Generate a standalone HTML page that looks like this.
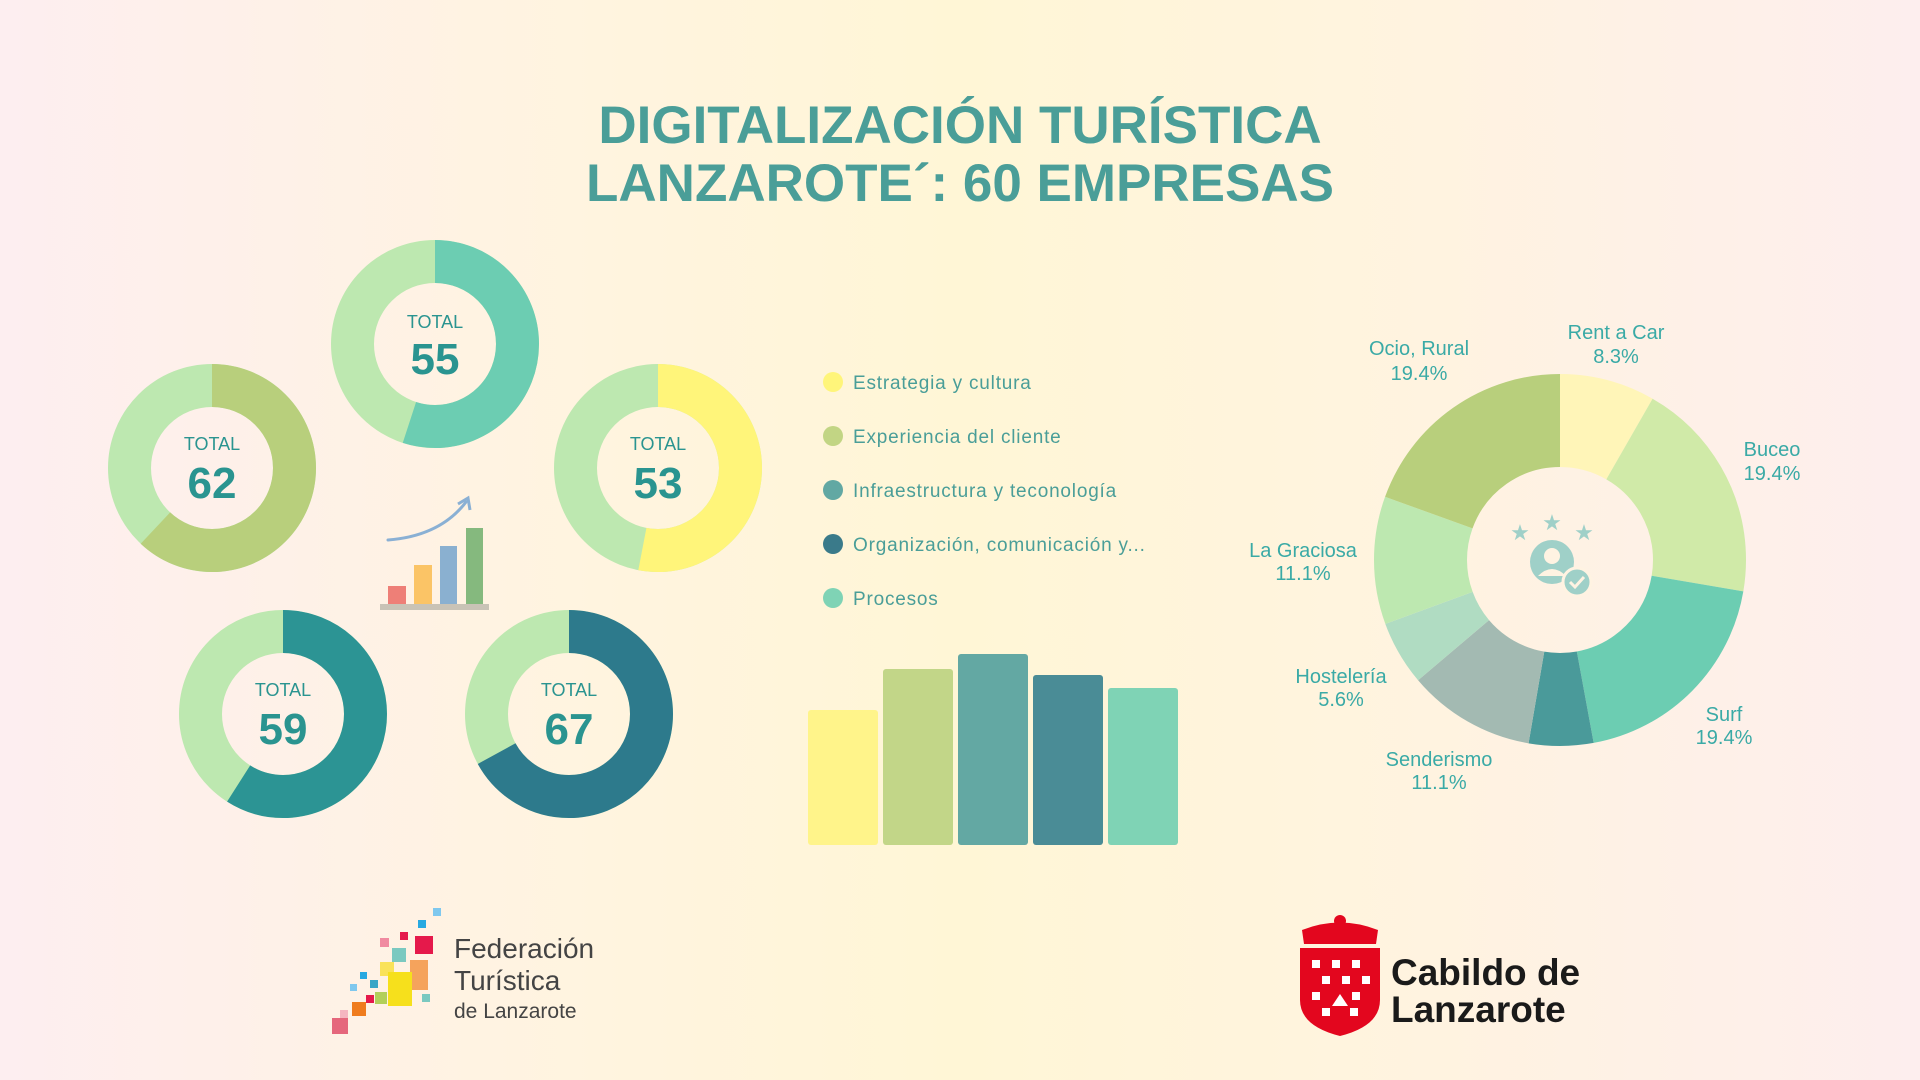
<!DOCTYPE html>
<html><head><meta charset="utf-8"><style>
html,body{margin:0;padding:0}
body{width:1920px;height:1080px;overflow:hidden;position:relative;font-family:"Liberation Sans",sans-serif;
background:linear-gradient(90deg,#fdeef0 0%,#fff3e2 25%,#fff6d6 50%,#fff3e0 75%,#fdeeee 100%);}
.t{position:absolute;color:#3a9f9b;white-space:nowrap}
</style></head><body>
<div class="t" style="left:0;width:1920px;text-align:center;top:97px;font-size:53px;font-weight:bold;line-height:58px;color:#4a9e98">DIGITALIZACIÓN TURÍSTICA<br>LANZAROTE´: 60 EMPRESAS</div>

<svg width="1920" height="1080" style="position:absolute;left:0;top:0">
<g fill="none" stroke-width="43">
 <g transform="translate(435,344) rotate(-90)"><circle r="82.5" stroke="#bde8b0"/><circle r="82.5" stroke="#6ccdb2" stroke-dasharray="285.1 600"/></g>
 <g transform="translate(212,468) rotate(-90)"><circle r="82.5" stroke="#bde8b0"/><circle r="82.5" stroke="#b8cf7c" stroke-dasharray="321.4 600"/></g>
 <g transform="translate(658,468) rotate(-90)"><circle r="82.5" stroke="#bde8b0"/><circle r="82.5" stroke="#fff57a" stroke-dasharray="274.8 600"/></g>
 <g transform="translate(283,714) rotate(-90)"><circle r="82.5" stroke="#bde8b0"/><circle r="82.5" stroke="#2c9494" stroke-dasharray="305.9 600"/></g>
 <g transform="translate(569,714) rotate(-90)"><circle r="82.5" stroke="#bde8b0"/><circle r="82.5" stroke="#2d7a8c" stroke-dasharray="347.3 600"/></g>
</g>
<g font-family="Liberation Sans" fill="#2a9490" text-anchor="middle">
 <text x="435" y="328" font-size="18">TOTAL</text><text x="435" y="374" font-size="44" font-weight="bold">55</text>
 <text x="212" y="450" font-size="18">TOTAL</text><text x="212" y="498" font-size="44" font-weight="bold">62</text>
 <text x="658" y="450" font-size="18">TOTAL</text><text x="658" y="498" font-size="44" font-weight="bold">53</text>
 <text x="283" y="696" font-size="18">TOTAL</text><text x="283" y="744" font-size="44" font-weight="bold">59</text>
 <text x="569" y="696" font-size="18">TOTAL</text><text x="569" y="744" font-size="44" font-weight="bold">67</text>
</g>
<path d="M388 540 Q440 536 466 502" stroke="#8ab0d4" stroke-width="3" fill="none" stroke-linecap="round"/>
<path d="M458 504 L468 498 L470 510" stroke="#8ab0d4" stroke-width="3" fill="none"/>
<rect x="388" y="586" width="18" height="22" fill="#ee7f77"/>
<rect x="414" y="565" width="18" height="43" fill="#fbc466"/>
<rect x="440" y="546" width="17" height="62" fill="#8ab0d0"/>
<rect x="466" y="528" width="17" height="80" fill="#85b97e"/>
<rect x="380" y="604" width="109" height="6" fill="#c9c3b6"/>

<g font-family="Liberation Sans" font-size="19" fill="#4a9e98">
 <circle cx="833" cy="382" r="10" fill="#fff57a"/><text x="853" y="389" letter-spacing="0.8">Estrategia y cultura</text>
 <circle cx="833" cy="436" r="10" fill="#c2d584"/><text x="853" y="443" letter-spacing="0.8">Experiencia del cliente</text>
 <circle cx="833" cy="490" r="10" fill="#62a8a3"/><text x="853" y="497" letter-spacing="0.8">Infraestructura y teconología</text>
 <circle cx="833" cy="544" r="10" fill="#3a7a8a"/><text x="853" y="551" letter-spacing="0.8">Organización, comunicación y...</text>
 <circle cx="833" cy="598" r="10" fill="#7fd3b5"/><text x="853" y="605" letter-spacing="0.8">Procesos</text>
</g>
<rect x="808" y="710" width="70" height="135" rx="3" fill="#fff48a"/>
<rect x="883" y="669" width="70" height="176" rx="3" fill="#c2d688"/>
<rect x="958" y="654" width="70" height="191" rx="3" fill="#63a8a3"/>
<rect x="1033" y="675" width="70" height="170" rx="3" fill="#4a8c96"/>
<rect x="1108" y="688" width="70" height="157" rx="3" fill="#7fd3b5"/>

<g transform="translate(1560,560) rotate(-90)" fill="none" stroke-width="93">
 <circle r="139.5" stroke="#fff5b8" stroke-dasharray="72.7 900" stroke-dashoffset="0"/>
 <circle r="139.5" stroke="#d0eaa8" stroke-dasharray="170 900" stroke-dashoffset="-72.7"/>
 <circle r="139.5" stroke="#6ccdb2" stroke-dasharray="170 900" stroke-dashoffset="-242.7"/>
 <circle r="139.5" stroke="#4a9a9a" stroke-dasharray="49.1 900" stroke-dashoffset="-412.7"/>
 <circle r="139.5" stroke="#a3bab2" stroke-dasharray="97.3 900" stroke-dashoffset="-461.8"/>
 <circle r="139.5" stroke="#b0dcc2" stroke-dasharray="49.1 900" stroke-dashoffset="-559.1"/>
 <circle r="139.5" stroke="#bde8b0" stroke-dasharray="97.3 900" stroke-dashoffset="-608.2"/>
 <circle r="139.5" stroke="#b8cf7c" stroke-dasharray="171 900" stroke-dashoffset="-705.5"/>
</g>
<g fill="#9fd0c8">
 <text x="1520" y="540" font-size="22" text-anchor="middle" font-family="DejaVu Sans">★</text>
 <text x="1552" y="530" font-size="22" text-anchor="middle" font-family="DejaVu Sans">★</text>
 <text x="1584" y="540" font-size="22" text-anchor="middle" font-family="DejaVu Sans">★</text>
 <circle cx="1552" cy="562" r="22"/>
 <circle cx="1552" cy="556" r="8" fill="#fff3e2"/>
 <path d="M1538 576 Q1552 562 1566 576 Z" fill="#fff3e2"/>
 <circle cx="1577" cy="582" r="14" stroke="#fff3e2" stroke-width="3"/>
 <path d="M1570 582 L1575 587 L1584 577" stroke="#fff3e2" stroke-width="3" fill="none"/>
</g>
<g font-family="Liberation Sans" font-size="20" fill="#3aaaa6" text-anchor="middle">
 <text x="1616" y="339">Rent a Car</text><text x="1616" y="363">8.3%</text>
 <text x="1419" y="355">Ocio, Rural</text><text x="1419" y="380">19.4%</text>
 <text x="1772" y="456">Buceo</text><text x="1772" y="480">19.4%</text>
 <text x="1303" y="557">La Graciosa</text><text x="1303" y="580">11.1%</text>
 <text x="1341" y="683">Hostelería</text><text x="1341" y="706">5.6%</text>
 <text x="1724" y="721">Surf</text><text x="1724" y="744">19.4%</text>
 <text x="1439" y="766">Senderismo</text><text x="1439" y="789">11.1%</text>
</g>

<rect x="433" y="908" width="8" height="8" fill="#7fc8ee"/>
<rect x="418" y="920" width="8" height="8" fill="#27a9e1"/>
<rect x="415" y="936" width="18" height="18" fill="#e5194b"/>
<rect x="400" y="932" width="8" height="8" fill="#e5194b"/>
<rect x="380" y="938" width="9" height="9" fill="#f08aa0"/>
<rect x="392" y="948" width="14" height="14" fill="#7bc9c0"/>
<rect x="410" y="960" width="18" height="30" fill="#f5a35c"/>
<rect x="380" y="962" width="14" height="14" fill="#f9e25a"/>
<rect x="388" y="972" width="24" height="34" fill="#f6e01c"/>
<rect x="370" y="980" width="8" height="8" fill="#3aa6c6"/>
<rect x="360" y="972" width="7" height="7" fill="#27a9e1"/>
<rect x="350" y="984" width="7" height="7" fill="#7fc8ee"/>
<rect x="375" y="992" width="12" height="12" fill="#b2cf5a"/>
<rect x="422" y="994" width="8" height="8" fill="#7bc9c0"/>
<rect x="352" y="1002" width="14" height="14" fill="#ef7c1e"/>
<rect x="366" y="995" width="8" height="8" fill="#e5194b"/>
<rect x="332" y="1018" width="16" height="16" fill="#e5677c"/>
<rect x="340" y="1010" width="8" height="8" fill="#f5b5c0"/>
<g font-family="Liberation Sans" fill="#444">
 <text x="454" y="958" font-size="28">Federación</text>
 <text x="454" y="990" font-size="28">Turística</text>
 <text x="454" y="1018" font-size="21">de Lanzarote</text>
</g>
<g fill="#e3061e">
 <circle cx="1340" cy="921" r="6"/>
 <path d="M1302 930 Q1340 915 1378 930 L1376 944 L1304 944 Z"/>
 <path d="M1300 948 L1380 948 L1380 1000 Q1380 1026 1340 1036 Q1300 1026 1300 1000 Z"/>
</g>
<g fill="#fff">
 <rect x="1312" y="960" width="8" height="8"/><rect x="1332" y="960" width="8" height="8"/><rect x="1352" y="960" width="8" height="8"/>
 <rect x="1322" y="976" width="8" height="8"/><rect x="1342" y="976" width="8" height="8"/><rect x="1362" y="976" width="8" height="8"/>
 <rect x="1312" y="992" width="8" height="8"/><rect x="1352" y="992" width="8" height="8"/>
 <path d="M1332 1006 L1340 994 L1348 1006 Z"/>
 <rect x="1322" y="1008" width="8" height="8"/><rect x="1350" y="1008" width="8" height="8"/>
</g>
<g font-family="Liberation Sans" font-weight="bold" fill="#1a1a1a" font-size="37">
 <text x="1391" y="985">Cabildo de</text>
 <text x="1391" y="1022">Lanzarote</text>
</g>
</svg>
</body></html>
